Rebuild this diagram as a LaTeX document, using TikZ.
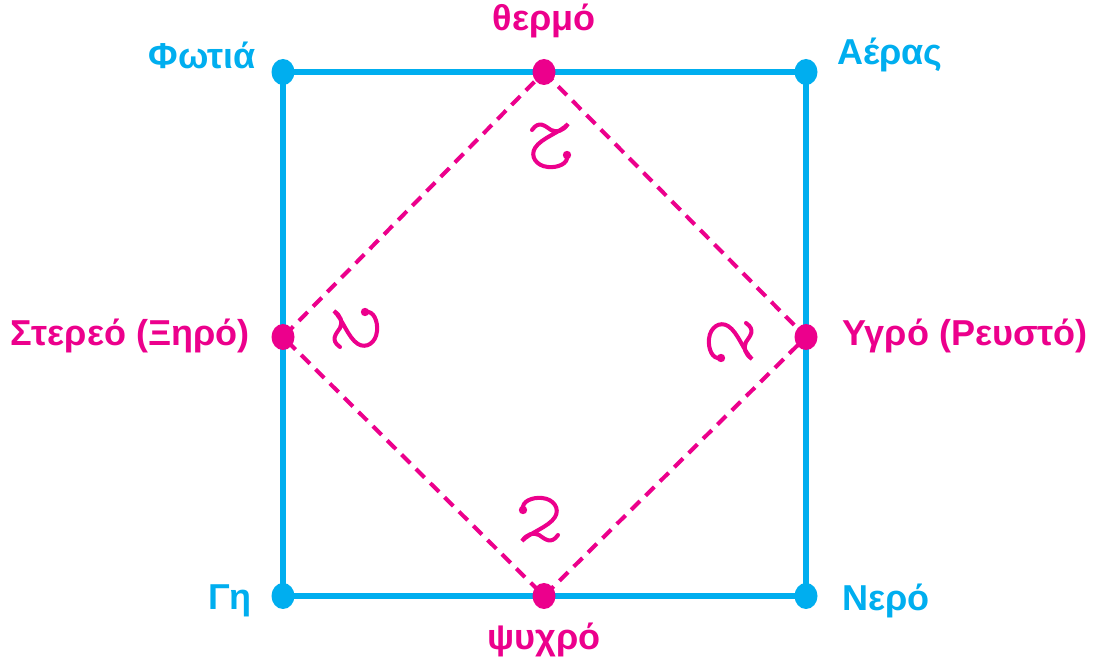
\documentclass[tikz,border=0pt]{standalone}
\usepackage{fontspec}
\setmainfont{Liberation Sans}
\definecolor{elemblue}{RGB}{0,174,239}
\definecolor{qualpink}{RGB}{236,0,140}
\tikzset{
  curl/.pic={
    \fill (-16,-11) circle (4.2);
    \draw[line width=2.3pt, line cap=round] (-16,-11) .. controls (-18,-20) and (-6,-24) .. (3,-23)
      .. controls (15,-22) and (21,-12) .. (16,-4) .. controls (10,6) and (-10,12) .. (-17,20)
      .. controls (-12,13) and (-6,11) .. (0,14) .. controls (6,18) and (12,24) .. (19,14);
  }
}
\begin{document}
\begin{tikzpicture}[x=0.02cm, y=-0.02cm,
  elem/.style={text=elemblue, font=\fontsize{20.5}{24}\bfseries},
  qual/.style={text=qualpink, font=\fontsize{20.5}{24}\bfseries}]
\useasboundingbox (0,0) rectangle (1093,665);
\coordinate (fire) at (283,72);
\coordinate (air) at (806,72);
\coordinate (water) at (806,596);
\coordinate (earth) at (283,596);
\coordinate (hot) at (544,72);
\coordinate (wet) at (806,337);
\coordinate (cold) at (544,596);
\coordinate (dry) at (283,337);
\draw[elemblue, line width=2.9pt] (fire)--(air)--(water)--(earth)--cycle;
\draw[qualpink, line width=2.3pt, dash pattern=on 7pt off 4.5pt] (hot)--(wet)--(cold)--(dry)--cycle;
\foreach \p in {fire,air,water,earth} \fill[elemblue] (\p) ellipse (11.5 and 13);
\foreach \p in {hot,wet,cold,dry} \fill[qualpink] (\p) ellipse (11.5 and 13);
\node[elem, anchor=east] (firelbl) at (262,55) {Φωτιά};
\node[elem, anchor=west] (airlbl) at (831,55) {Αέρας};
\node[elem, anchor=east] (earthlbl) at (258,601) {Γη};
\node[elem, anchor=west] (waterlbl) at (836,601) {Νερό};
\node[qual] (hotlbl) at (544,21) {θερμό};
\node[qual] (coldlbl) at (544,640) {ψυχρό};
\node[qual, anchor=east] (drylbl) at (256,336) {Στερεό (Ξηρό)};
\node[qual, anchor=west] (wetlbl) at (836,336) {Υγρό (Ρευστό)};
\begin{scope}[qualpink]
\pic at (539,521) {curl};
\pic[rotate=180] at (551,144) {curl};
\pic[rotate=-90] at (354,328) {curl};
\pic[rotate=90] at (732,342) {curl};
\end{scope}
\end{tikzpicture}
\end{document}
